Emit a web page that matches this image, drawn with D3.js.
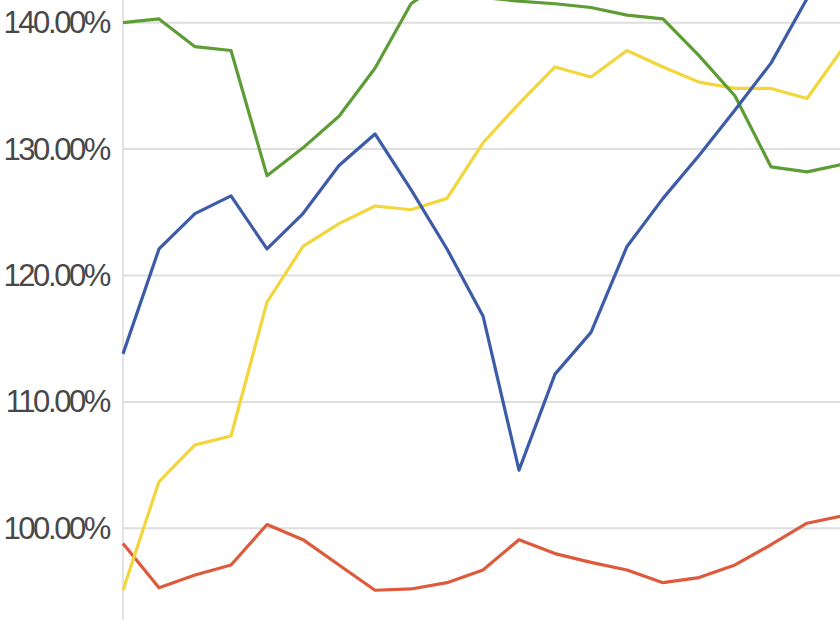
<!DOCTYPE html>
<html>
<head>
<meta charset="utf-8">
<script src="https://cdn.jsdelivr.net/npm/d3@7"></script>
<style>
  html, body { margin: 0; padding: 0; background: #fff; overflow: hidden; }
</style>
</head>
<body>
<div id="chart"></div>
<script>
// periods (index along x)
var periods = d3.range(0, 21);
var yTicks = [100, 110, 120, 130, 140];

// series values, in percent
var blueVals   = [113.8, 122.1, 124.9, 126.3, 122.1, 124.9, 128.7, 131.2, 126.8, 122.1, 116.8, 104.6, 112.2, 115.5, 122.3, 126.1, 129.5, 133.1, 136.8, 141.9, 146.0];
var greenVals  = [140.0, 140.3, 138.1, 137.8, 127.9, 130.1, 132.6, 136.4, 141.5, 143.5, 142.0, 141.7, 141.5, 141.2, 140.6, 140.3, 137.4, 134.2, 128.6, 128.2, 128.8];
var yellowVals = [95.1, 103.7, 106.6, 107.3, 117.9, 122.3, 124.1, 125.5, 125.2, 126.1, 130.5, 133.6, 136.5, 135.7, 137.8, 136.5, 135.3, 134.8, 134.8, 134.0, 138.0];
var redVals    = [98.8, 95.3, 96.3, 97.1, 100.3, 99.1, 97.1, 95.1, 95.2, 95.7, 96.7, 99.1, 98.0, 97.3, 96.7, 95.7, 96.1, 97.1, 98.7, 100.4, 101.0];

var width = 840, height = 620;
var margin = {left: 123, top: 22.7, bottom: 91.7};

var svg = d3.select("#chart").append("svg")
    .attr("width", width).attr("height", height);

var xScale = d3.scaleLinear()
    .domain([0, 20])
    .range([margin.left, 843]);

var yScale = d3.scaleLinear()
    .domain([100, 140])
    .range([height - margin.bottom, margin.top]);

// gridlines
svg.append("g")
    .selectAll("line")
    .data(yTicks)
    .enter()
    .append("line")
    .attr("x1", margin.left)
    .attr("x2", width)
    .attr("y1", d => yScale(d))
    .attr("y2", d => yScale(d))
    .attr("stroke", "#dedede")
    .attr("stroke-width", 2);

// y axis line
svg.append("line")
    .attr("x1", margin.left).attr("x2", margin.left)
    .attr("y1", 0).attr("y2", height)
    .attr("stroke", "#d8d8e0")
    .attr("stroke-width", 1.5);

var axisy = d3.axisLeft(yScale)
    .tickValues(yTicks)
    .tickSize(0)
    .tickPadding(14)
    .tickFormat(d => d.toFixed(2) + "%");

svg.append("g")
    .attr("transform", "translate(" + margin.left + ",0)")
    .call(axisy)
    .call(g => g.select(".domain").remove())
    .selectAll("text")
    .attr("fill", "#484848")
    .attr("font-family", "'Liberation Sans', Arial, sans-serif")
    .attr("font-size", "31px")
    .attr("letter-spacing", "-2.4px");

var lineFunc = d3.line()
    .curve(d3.curveLinear)
    .x((d, i) => xScale(periods[i]))
    .y(d => yScale(d));

var series = [
    {vals: redVals, color: "#dd5a3c"},
    {vals: yellowVals, color: "#f3d53c"},
    {vals: greenVals, color: "#5e9c35"},
    {vals: blueVals, color: "#3d5ca8"}
];

series.forEach(function(s) {
    svg.append("path")
        .attr("d", lineFunc(s.vals))
        .attr("stroke", s.color)
        .attr("stroke-width", 3.2)
        .attr("stroke-linejoin", "round")
        .attr("fill", "none");
});
</script>
</body>
</html>
